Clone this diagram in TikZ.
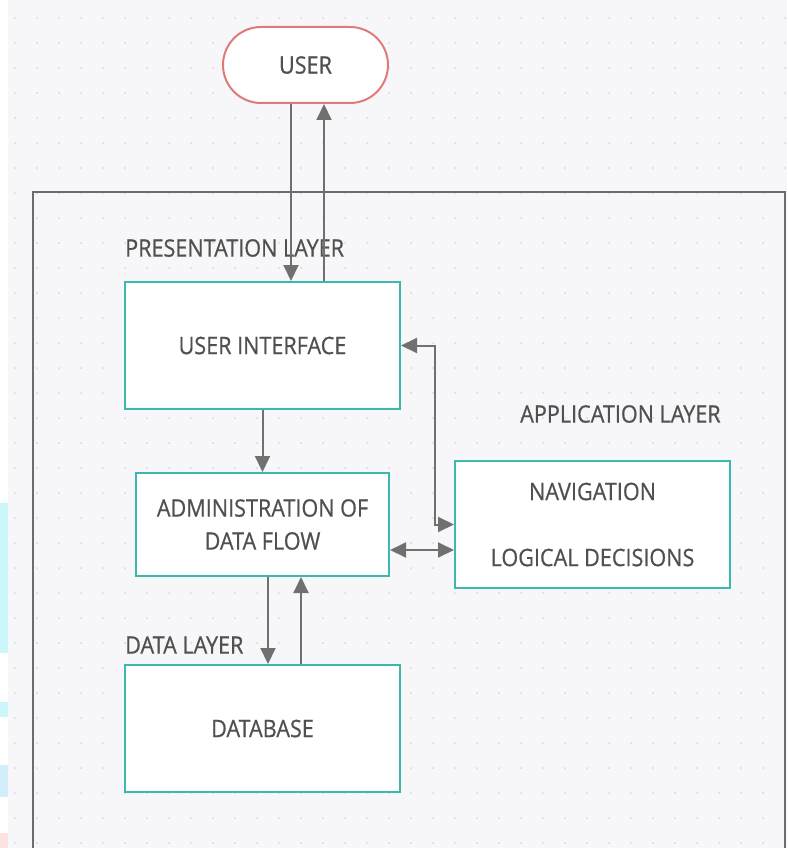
\documentclass[tikz,border=0pt]{standalone}
\usepackage{fontspec}
\setmainfont[FakeStretch=0.9,FakeBold=0.6]{Open Sans}
\usetikzlibrary{arrows.meta,calc}
\definecolor{ink}{HTML}{505050}
\definecolor{wire}{HTML}{707070}
\definecolor{frame}{HTML}{6C6C6C}
\definecolor{tealc}{HTML}{3DB8AF}
\definecolor{rose}{HTML}{E07A7A}
\definecolor{canvas}{HTML}{F7F7F9}
\definecolor{dotc}{HTML}{D6D6DC}
\definecolor{stripc}{HTML}{CCF7FA}
\definecolor{stripb}{HTML}{D2EEFA}
\definecolor{stripp}{HTML}{FDE2E2}

\begin{document}
\begin{tikzpicture}[x=1pt,y=-1pt,
  txt/.style={text=ink, font=\fontsize{24}{29}\selectfont},
  lbl/.style={txt, inner sep=0pt},
  box/.style={txt, draw=tealc, line width=2pt, fill=white, align=center, inner sep=0pt},
  tip/.tip={Triangle[length=16pt,width=15pt]},
  arr/.style={draw=wire, line width=2pt, -tip},
  biarr/.style={draw=wire, line width=2pt, tip-tip}
]
\useasboundingbox (0,0) rectangle (787,848);

% canvas with dotted grid
\fill[white] (0,0) rectangle (787,848);
\fill[canvas] (8,0) rectangle (787,848);
\fill[stripc] (0,503) rectangle (8,653);
\fill[stripc] (0,702) rectangle (8,717);
\fill[stripb] (0,765) rectangle (8,797);
\fill[stripp] (0,833) rectangle (8,848);
\foreach \i in {0,...,35}
  \foreach \j in {0,...,33}
    \fill[dotc] (15+22*\i, 18+25*\j) circle (1);

% system boundary
\draw[frame, line width=2pt] (33,848) -- (33,192) -- (785,192) -- (785,848);

% nodes
\node[txt, draw=rose, line width=2pt, fill=white, rounded corners=38pt,
      minimum width=165pt, minimum height=76pt, inner sep=0pt] (user) at (305.5,65) {USER};
\node[box, minimum width=275pt, minimum height=127pt] (ui) at (262.5,345.5) {USER INTERFACE};
\node[box, minimum width=253pt, minimum height=103pt, font=\fontsize{24}{33}\selectfont] (admin) at (262.5,524.5) {ADMINISTRATION OF\\DATA FLOW};
\node[box, minimum width=275pt, minimum height=127pt, font=\fontsize{24}{29}\selectfont] (nav) at (592.5,524.5) {NAVIGATION\\[37pt]LOGICAL DECISIONS};
\node[box, minimum width=275pt, minimum height=127pt] (db) at (262.5,728.5) {DATABASE};

% layer labels
\node[lbl, anchor=west] (presl) at (125,248) {PRESENTATION LAYER};
\node[lbl, anchor=west] (appl) at (520,414) {APPLICATION LAYER};
\node[lbl, anchor=west] (datal) at (125,645) {DATA LAYER};

% connectors
\coordinate (u1) at ($(user.south)+(-14.5,0)$);
\draw[arr] (u1) -- (u1 |- ui.north);
\coordinate (u2) at ($(ui.north)+(61.5,0)$);
\draw[arr] (u2) -- (u2 |- user.south);

\draw[arr] (ui.south) -- (admin.north);

\draw[biarr] (ui.east) -- ++(34,0) |- (nav.west);

\coordinate (j1) at ($(admin.east)+(0,25.5)$);
\draw[biarr] (j1) -- (j1 -| nav.west);

\coordinate (d1) at ($(admin.south)+(5.5,0)$);
\draw[arr] (d1) -- (d1 |- db.north);
\coordinate (d2) at ($(db.north)+(38.5,0)$);
\draw[arr] (d2) -- (d2 |- admin.south);
\end{tikzpicture}
\end{document}
